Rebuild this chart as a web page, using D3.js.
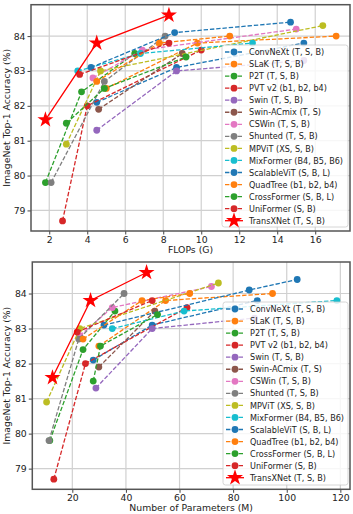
<!DOCTYPE html>
<html>
<head>
<meta charset="utf-8">
<script src="https://cdn.jsdelivr.net/npm/d3@7"></script>
<style>
  body { margin: 0; background: #fff; }
  svg { font-family: "DejaVu Sans", sans-serif; }
</style>
</head>
<body>
<svg id="canvas" width="353" height="514"></svg>
<script>
// model names, in legend order
let models = ['ConvNeXt (T, S, B)', 'SLaK (T, S, B)', 'P2T (T, S, B)', 'PVT v2 (b1, b2, b4)',
  'Swin (T, S, B)', 'Swin-ACmix (T, S)', 'CSWin (T, S, B)', 'Shunted (T, S, B)',
  'MPViT (XS, S, B)', 'MixFormer (B4, B5, B6)', 'ScalableViT (S, B, L)', 'QuadTree (b1, b2, b4)',
  'CrossFormer (S, B, L)', 'UniFormer (S, B)', 'TransXNet (T, S, B)'];

let colors = ['#1f77b4', '#ff7f0e', '#2ca02c', '#d62728', '#9467bd', '#8c564b', '#e377c2', '#7f7f7f',
  '#bcbd22', '#17becf', '#1f77b4', '#ff7f0e', '#2ca02c', '#d62728', '#ff0000'];

let flops = [[4.5, 8.7, 15.4], [5.0, 9.8, 17.1], [1.8, 3.7, 6.5], [2.7, 4.0, 10.0], [4.5, 8.7, 15.4],
  [4.6, 9.0], [4.3, 6.9, 15.0], [2.1, 4.9, 8.1], [2.9, 4.7, 16.4], [3.5, 6.8, 12.7],
  [4.2, 8.6, 14.7], [4.5, 7.8, 11.5], [2.9, 4.9, 9.2], [3.6, 8.3], [1.8, 4.5, 8.3]];

let params = [[27.8, 49.8, 89], [29.9, 54.8, 94.7], [11.6, 24, 35.9], [13.1, 24.9, 62.8], [28.8, 49.8, 88],
  [29.9, 50.8], [22.8, 34.9, 71.9], [11.3, 22.4, 39.3], [10.4, 22.8, 74.5], [34.9, 61.7, 118.7],
  [31.8, 86, 103.9], [24, 46, 63.8], [27.8, 30.5, 51.8], [21.8, 49.8], [12.6, 26.8, 47.7]];

let acc = [[82.1, 83.1, 83.8], [82.5, 83.8, 84.0], [79.8, 82.4, 83.5], [78.7, 82.0, 83.6], [81.3, 83.0, 83.3],
  [81.9, 83.5], [82.8, 83.6, 84.2], [79.8, 82.7, 84.0], [80.9, 83.0, 84.3], [83.0, 83.5, 83.8],
  [83.1, 84.1, 84.4], [82.7, 83.8, 84.0], [81.5, 82.5, 83.4], [82.9, 83.8], [81.6, 83.8, 84.6]];

let flopTicks = [2, 4, 6, 8, 10, 12, 14, 16];
let paramTicks = [20, 40, 60, 80, 100, 120];
let accTicks = [79, 80, 81, 82, 83, 84];

let canvas = d3.select('#canvas');
let star = d3.symbol().type(d3.symbolStar).size(80);

let drawPanel = (box, xDomain, xTicks, xs, xLabel) => {
  let x = d3.scaleLinear().domain(xDomain).range([box.left, box.right]);
  let y = d3.scaleLinear().domain([78.41, 84.9]).range([box.bottom, box.top]);
  let g = canvas.append('g');

  // grid
  g.selectAll('.gx').data(xTicks).enter().append('line')
    .attr('x1', d => x(d)).attr('x2', d => x(d))
    .attr('y1', box.top).attr('y2', box.bottom)
    .attr('stroke', '#d0d0d0').attr('stroke-width', 1.2);
  g.selectAll('.gy').data(accTicks).enter().append('line')
    .attr('y1', d => y(d)).attr('y2', d => y(d))
    .attr('x1', box.left).attr('x2', box.right)
    .attr('stroke', '#d0d0d0').attr('stroke-width', 1.2);

  // axes
  let xAxis = g.append('g').attr('transform', `translate(0,${box.bottom})`)
    .call(d3.axisBottom(x).tickValues(xTicks).tickSize(3.5).tickPadding(2).tickFormat(d3.format('d')));
  let yAxis = g.append('g').attr('transform', `translate(${box.left},0)`)
    .call(d3.axisLeft(y).tickValues(accTicks).tickSize(3.5).tickPadding(2).tickFormat(d3.format('d')));
  [xAxis, yAxis].forEach(a => {
    a.select('.domain').remove();
    a.selectAll('text').attr('font-size', 9.3).attr('fill', '#222').attr('font-family', 'DejaVu Sans');
    a.selectAll('line').attr('stroke', '#444');
  });

  // series
  models.forEach((m, i) => {
    let pts = xs[i].map((v, j) => [v, acc[i][j]]);
    let last = i === models.length - 1;
    g.append('path')
      .attr('d', d3.line().x(d => x(d[0])).y(d => y(d[1]))(pts))
      .attr('fill', 'none')
      .attr('stroke', colors[i])
      .attr('stroke-width', 1.3)
      .attr('stroke-dasharray', last ? null : '4.4,1.9');
    if (last) {
      g.selectAll('.st').data(pts).enter().append('path')
        .attr('d', star)
        .attr('transform', d => `translate(${x(d[0])},${y(d[1])})`)
        .attr('fill', colors[i]);
    } else {
      g.selectAll('.c' + i).data(pts).enter().append('circle')
        .attr('cx', d => x(d[0])).attr('cy', d => y(d[1])).attr('r', 3.4)
        .attr('fill', colors[i]);
    }
  });

  // frame
  g.append('rect')
    .attr('x', box.left).attr('y', box.top)
    .attr('width', box.right - box.left).attr('height', box.bottom - box.top)
    .attr('fill', 'none').attr('stroke', '#555').attr('stroke-width', 1.5);

  // labels
  g.append('text')
    .attr('x', (box.left + box.right) / 2).attr('y', box.bottom + 22)
    .attr('text-anchor', 'middle').attr('font-size', 9.3).attr('fill', '#222')
    .text(xLabel);
  g.append('text')
    .attr('transform', `translate(9.5,${(box.top + box.bottom) / 2}) rotate(-90)`)
    .attr('text-anchor', 'middle').attr('font-size', 9.3).attr('fill', '#222')
    .text('ImageNet Top-1 Accuracy (%)');

  // legend
  let lg = g.append('g');
  lg.append('rect')
    .attr('x', box.legX).attr('y', box.legY)
    .attr('width', box.right - 2 - box.legX).attr('height', box.legH)
    .attr('rx', 2.5)
    .attr('fill', 'rgba(255,255,255,0.82)').attr('stroke', '#ccc').attr('stroke-width', 0.8);
  models.forEach((m, i) => {
    let ry = box.legY + 7 + i * 12.05;
    let last = i === models.length - 1;
    lg.append('line')
      .attr('x1', box.legX + 3).attr('x2', box.legX + 21)
      .attr('y1', ry).attr('y2', ry)
      .attr('stroke', colors[i]).attr('stroke-width', 1.3)
      .attr('stroke-dasharray', last ? null : '4.4,1.9');
    if (last) {
      lg.append('path').attr('d', star)
        .attr('transform', `translate(${box.legX + 12},${ry})`).attr('fill', colors[i]);
    } else {
      lg.append('circle').attr('cx', box.legX + 12).attr('cy', ry).attr('r', 3.4).attr('fill', colors[i]);
    }
    lg.append('text')
      .attr('x', box.legX + 27).attr('y', ry + 3.1)
      .attr('font-size', 8.1).attr('fill', '#222')
      .text(m);
  });
};

drawPanel({ left: 31, right: 350, top: 4.7, bottom: 231, legX: 222, legY: 45, legH: 182 },
  [1.04, 17.83], flopTicks, flops, 'FLOPs (G)');
drawPanel({ left: 32.3, right: 350, top: 262, bottom: 489.3, legX: 223, legY: 302, legH: 183 },
  [5.07, 123.6], paramTicks, params, 'Number of Parameters (M)');
</script>
</body>
</html>
